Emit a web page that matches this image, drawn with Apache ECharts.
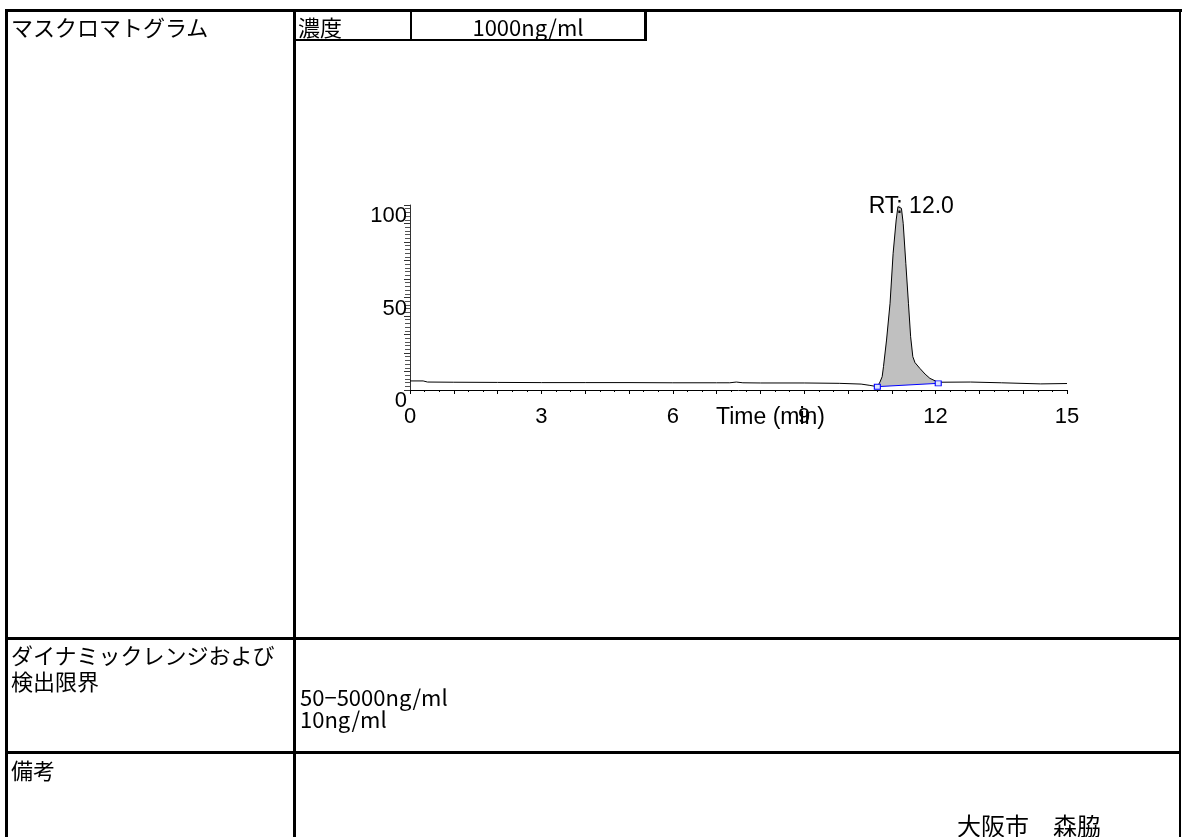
<!DOCTYPE html>
<html>
<head>
<meta charset="utf-8">
<title>マスクロマトグラム</title>
<script src="https://cdn.jsdelivr.net/npm/echarts@6/dist/echarts.min.js"></script>
<style>
  html, body { margin: 0; padding: 0; background: #fff; }
  #page { position: relative; width: 1182px; height: 837px; overflow: hidden; }
  #chart { position: absolute; left: 0; top: 0; width: 1182px; height: 837px; }
  .ln { position: absolute; background: #000; }
  .tx {
    position: absolute; white-space: pre; color: #000;
    font-family: "Noto Sans CJK JP", "Noto Sans", sans-serif;
    font-size: 22px; line-height: 22px;
  }
</style>
</head>
<body>
<div id="page">
  <div id="chart"></div>

  <!-- 表の罫線 -->
  <div class="ln" style="left:5px;top:9px;width:1177px;height:3px"></div>
  <div class="ln" style="left:5px;top:9px;width:3px;height:828px"></div>
  <div class="ln" style="left:1179px;top:9px;width:2px;height:828px"></div>
  <div class="ln" style="left:293px;top:9px;width:3px;height:828px"></div>
  <div class="ln" style="left:5px;top:637px;width:1176px;height:3px"></div>
  <div class="ln" style="left:5px;top:751px;width:1176px;height:3px"></div>
  <!-- 濃度の枠 -->
  <div class="ln" style="left:293px;top:39px;width:354px;height:2px"></div>
  <div class="ln" style="left:410px;top:9px;width:2px;height:31px"></div>
  <div class="ln" style="left:644px;top:9px;width:3px;height:32px"></div>

  <div class="tx" style="left:11px;top:15px">マスクロマトグラム</div>
  <div class="tx" style="left:298px;top:15px">濃度</div>
  <div class="tx" style="left:412px;top:15px;width:232px;text-align:center">1000ng/ml</div>

  <div class="tx" style="left:11px;top:643px">ダイナミックレンジおよび</div>
  <div class="tx" style="left:11px;top:669px">検出限界</div>
  <div class="tx" style="left:300px;top:685px">50−5000ng/ml</div>
  <div class="tx" style="left:300px;top:707px">10ng/ml</div>

  <div class="tx" style="left:11px;top:758px">備考</div>
  <div class="tx" style="left:957px;top:813px;font-size:24px;line-height:24px">大阪市　森脇</div>
</div>

<script>
// クロマトグラム (時間 min, 相対強度 %)
const traceTime = [
  0, 0.3, 0.4, 1, 2, 3, 4, 5, 6, 7, 7.3, 7.45, 7.6, 8, 9, 9.8, 10.3, 10.5,
  10.67, 10.73, 10.78, 10.81, 10.88, 10.96, 11.03, 11.10, 11.14, 11.17,
  11.22, 11.26, 11.32, 11.38, 11.43, 11.48, 11.53, 11.64, 11.76, 11.87,
  12.03, 12.10, 12.8, 13.5, 14.4, 15
];
const traceValue = [
  4.9, 4.9, 4.3, 4.2, 4.1, 4.0, 4.0, 4.0, 3.9, 3.9, 3.9, 4.3, 3.9, 3.8, 3.8, 3.6, 3.2, 2.5,
  1.8, 4.3, 7.2, 12.6, 27.0, 46.9, 73.9, 91.9, 99.1, 100,
  98.2, 90.1, 68.5, 46.9, 28.8, 18.0, 14.8, 11.7, 8.6, 6.3,
  4.5, 4.2, 4.3, 3.9, 3.3, 3.5
];

// ピークのベースライン (始点・終点)
const baseTime = [10.67, 12.06];
const baseValue = [1.8, 3.6];

const rtLabel = 'RT: 12.0';

const xTicks = [0, 3, 6, 9, 12, 15];
const yTicks = [0, 50, 100];

const chartFont = '"Liberation Sans", Arial, sans-serif';

const chart = echarts.init(document.getElementById('chart'), null, { renderer: 'canvas' });

const tracePoints = traceTime.map((t, i) => [t, traceValue[i]]);
let apexIdx = 0;
traceValue.forEach((v, i) => { if (v > traceValue[apexIdx]) apexIdx = i; });

const option = {
  animation: false,
  grid: { left: 410, right: 115, top: 205, bottom: 447 },
  xAxis: {
    type: 'value',
    min: 0,
    max: 15,
    interval: 1,
    axisLine: { lineStyle: { color: '#000', width: 1 } },
    axisTick: { length: 4, lineStyle: { color: '#000' } },
    minorTick: { show: true, splitNumber: 3, length: 2, lineStyle: { color: '#000' } },
    splitLine: { show: false },
    axisLabel: {
      margin: 16,
      color: '#000',
      fontSize: 22,
      fontFamily: chartFont,
      formatter: v => (xTicks.indexOf(v) >= 0 ? String(v) : '')
    }
  },
  yAxis: {
    type: 'value',
    min: 0,
    max: 100,
    interval: 10,
    axisLine: { show: true, lineStyle: { color: '#333', width: 1 } },
    axisTick: { show: true, length: 6, lineStyle: { color: '#333' } },
    minorTick: { show: true, splitNumber: 5, length: 5, lineStyle: { color: '#555' } },
    splitLine: { show: false },
    axisLabel: {
      margin: 3,
      color: '#000',
      fontSize: 22,
      fontFamily: chartFont,
      verticalAlign: 'top',
      formatter: v => (yTicks.indexOf(v) >= 0 ? String(v) : '')
    }
  },
  graphic: [
    {
      type: 'text',
      x: 716,
      y: 418,
      style: {
        text: 'Time (min)',
        fill: '#000',
        font: '23px ' + chartFont,
        verticalAlign: 'middle'
      }
    }
  ],
  series: [
    {
      // ピーク面積 (灰色)
      type: 'custom',
      coordinateSystem: 'cartesian2d',
      data: [[baseTime[0], baseValue[0]]],
      z: 1,
      silent: true,
      renderItem: function (params, api) {
        const pts = [];
        traceTime.forEach((t, i) => {
          if (t >= baseTime[0] && t <= baseTime[1]) pts.push(api.coord([t, traceValue[i]]));
        });
        pts.push(api.coord([baseTime[1], baseValue[1]]));
        pts.push(api.coord([baseTime[0], baseValue[0]]));
        return { type: 'polygon', shape: { points: pts }, style: { fill: '#c0c0c0' } };
      }
    },
    {
      type: 'line',
      data: tracePoints,
      z: 3,
      showSymbol: false,
      silent: true,
      lineStyle: { color: '#000', width: 1 },
      markPoint: {
        silent: true,
        symbol: 'circle',
        symbolSize: 0,
        data: [{ coord: tracePoints[apexIdx] }],
        label: {
          show: true,
          formatter: rtLabel,
          color: '#000',
          fontSize: 23,
          fontFamily: chartFont,
          offset: [12, 2]
        }
      }
    },
    {
      type: 'line',
      data: baseTime.map((t, i) => [t, baseValue[i]]),
      z: 4,
      silent: true,
      symbol: 'rect',
      symbolSize: [6, 5],
      showSymbol: true,
      lineStyle: { color: '#0000ff', width: 1 },
      itemStyle: { color: '#dde4ff', borderColor: '#0000ff', borderWidth: 1 }
    }
  ]
};

chart.setOption(option);
</script>
</body>
</html>
